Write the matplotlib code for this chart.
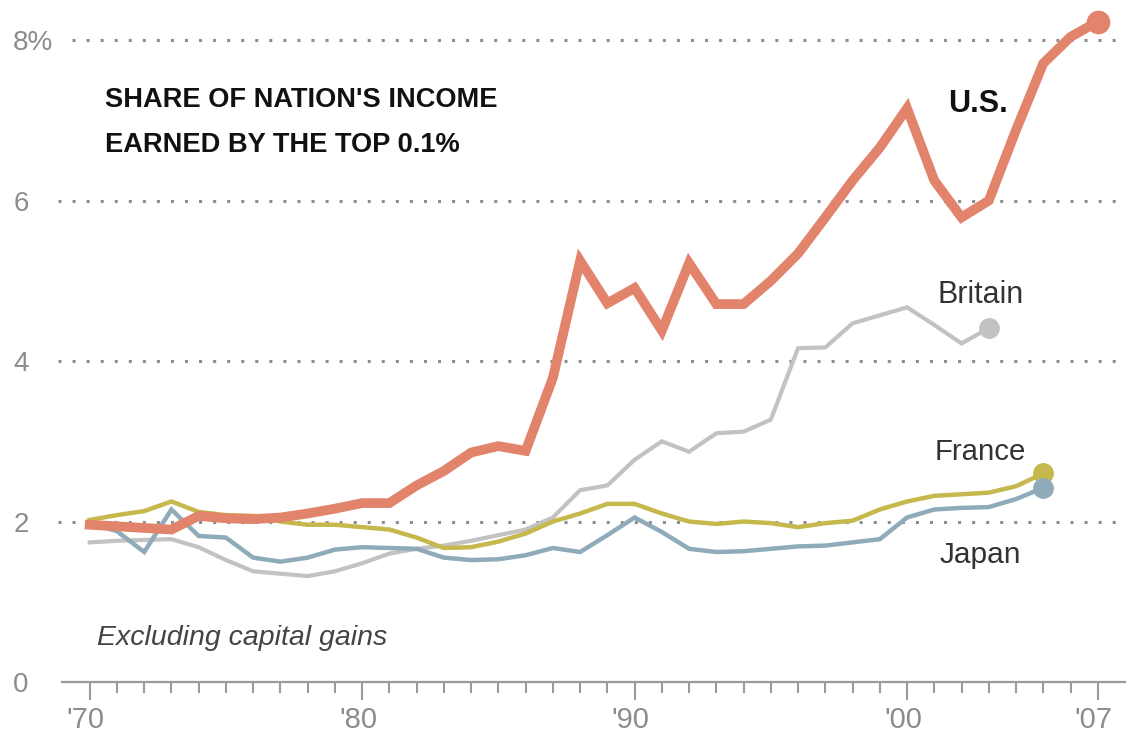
import matplotlib
matplotlib.use("Agg")
import matplotlib.pyplot as plt
from matplotlib import transforms

plt.rcParams['font.family'] = ['Liberation Sans', 'DejaVu Sans']

# Share of national income earned by the top 0.1% (excluding capital gains)
years_us = list(range(1970, 2008))
us = [1.96, 1.94, 1.92, 1.90, 2.07, 2.04, 2.03, 2.05, 2.10, 2.16,
      2.23, 2.23, 2.45, 2.63, 2.86, 2.94, 2.88, 3.79, 5.25, 4.72,
      4.91, 4.38, 5.22, 4.71, 4.71, 5.00, 5.34, 5.79, 6.25, 6.66,
      7.15, 6.25, 5.79, 6.00, 6.88, 7.71, 8.04, 8.23]

years_uk = list(range(1970, 2004))
britain = [1.74, 1.76, 1.77, 1.78, 1.68, 1.52, 1.38, 1.35, 1.32, 1.38,
           1.48, 1.60, 1.66, 1.70, 1.76, 1.83, 1.90, 2.05, 2.39, 2.45,
           2.77, 3.00, 2.87, 3.10, 3.12, 3.27, 4.16, 4.17, 4.47, 4.57,
           4.67, 4.45, 4.22, 4.41]

years_fr = list(range(1970, 2006))
france = [2.02, 2.08, 2.13, 2.25, 2.12, 2.08, 2.07, 2.00, 1.96, 1.96,
          1.93, 1.90, 1.80, 1.67, 1.68, 1.75, 1.85, 2.00, 2.10, 2.22,
          2.22, 2.10, 2.00, 1.97, 2.00, 1.98, 1.93, 1.98, 2.01, 2.15,
          2.25, 2.32, 2.34, 2.36, 2.44, 2.60]

years_jp = list(range(1970, 2006))
japan = [1.98, 1.88, 1.62, 2.15, 1.82, 1.80, 1.55, 1.50, 1.55, 1.65,
         1.68, 1.67, 1.66, 1.55, 1.52, 1.53, 1.58, 1.67, 1.62, 1.83,
         2.05, 1.87, 1.66, 1.62, 1.63, 1.66, 1.69, 1.70, 1.74, 1.78,
         2.05, 2.15, 2.17, 2.18, 2.28, 2.42]

y_ticks = [0, 2, 4, 6, 8]
y_labels = ['0', '2', '4', '6', '8%']
x_major = [1970, 1980, 1990, 2000, 2007]
x_labels = ["'70", "'80", "'90", "'00", "'07"]

C_US = '#E2836B'
C_UK = '#C2C2C2'
C_FR = '#C5B84C'
C_JP = '#8FABBA'
C_AXIS = '#9A9A9A'
C_TICKTXT = '#8C8C8C'
C_LABEL = '#333333'

W, H = 1133, 740
fig = plt.figure(figsize=(W / 100, H / 100), dpi=100)
ax = fig.add_axes([57 / W, 1 - 682 / H, (1125 - 57) / W, 682 / H])
ax.set_xlim(1968.8, 2008.0)
ax.set_ylim(0, 8.5)

for s in ['top', 'right', 'left']:
    ax.spines[s].set_visible(False)
ax.spines['bottom'].set_color(C_AXIS)
ax.spines['bottom'].set_linewidth(1.6)
ax.spines['bottom'].set_bounds(1968.97, 2008.0)

# dotted horizontal guides
dot_style = dict(colors='#8E8E8E', linewidth=2.2, linestyles=(0, (1, 3.6)),
                 clip_on=False, zorder=1)
ax.hlines([2, 4, 6], 1968.83, 2007.9, **dot_style)
ax.hlines([8], 1969.34, 2007.9, **dot_style)

# x axis ticks
ax.set_xticks(x_major)
ax.set_xticklabels(x_labels)
ax.set_xticks(range(1970, 2008), minor=True)
ax.tick_params(axis='x', which='major', length=13, width=1.5, color=C_AXIS,
               labelsize=21, labelcolor=C_TICKTXT, pad=4)
ax.tick_params(axis='x', which='minor', length=8, width=1.5, color=C_AXIS)
shift = transforms.ScaledTranslation(-4 / 100, 0, fig.dpi_scale_trans)
for lab in ax.get_xticklabels():
    lab.set_transform(lab.get_transform() + shift)

# y axis labels, left-aligned near the figure edge
ax.set_yticks(y_ticks)
ax.set_yticklabels(y_labels)
ax.tick_params(axis='y', length=0, labelsize=20, labelcolor=C_TICKTXT, pad=31.5)
for lab in ax.get_yticklabels():
    lab.set_horizontalalignment('left')

# series
ax.plot(years_uk, britain, color=C_UK, lw=3.0, solid_joinstyle='miter', zorder=3)
ax.plot(years_fr, france, color=C_FR, lw=3.2, solid_joinstyle='miter', zorder=4)
ax.plot(years_jp, japan, color=C_JP, lw=3.2, solid_joinstyle='miter', zorder=5)
ax.plot(years_us, us, color=C_US, lw=7.0, solid_joinstyle='miter', zorder=6)

ax.plot(years_uk[-1], britain[-1], 'o', color=C_UK, ms=14, zorder=3, clip_on=False)
ax.plot(years_fr[-1], france[-1], 'o', color=C_FR, ms=14, zorder=4, clip_on=False)
ax.plot(years_jp[-1], japan[-1], 'o', color=C_JP, ms=14, zorder=5, clip_on=False)
ax.plot(years_us[-1], us[-1], 'o', color=C_US, ms=16, zorder=6, clip_on=False)

# titles and labels
ax.text(1970.56, 7.165, "SHARE OF NATION'S INCOME", fontsize=19.6,
        fontweight='bold', color='#111111', va='baseline', ha='left')
ax.text(1970.56, 6.60, "EARNED BY THE TOP 0.1%", fontsize=19.6,
        fontweight='bold', color='#111111', va='baseline', ha='left')
ax.text(2001.51, 7.10, "U.S.", fontsize=22, fontweight='bold',
        color='#111111', va='baseline', ha='left')
ax.text(2001.1, 4.72, "Britain", fontsize=22, color=C_LABEL,
        va='baseline', ha='left')
ax.text(2001.03, 2.77, "France", fontsize=21.2, color=C_LABEL,
        va='baseline', ha='left')
ax.text(2001.2, 1.48, "Japan", fontsize=21.5, color=C_LABEL,
        va='baseline', ha='left')
ax.text(1970.27, 0.46, "Excluding capital gains", fontsize=20.5,
        style='italic', color='#444444', va='baseline', ha='left')

fig.savefig('out.png', dpi=100, facecolor='white')
